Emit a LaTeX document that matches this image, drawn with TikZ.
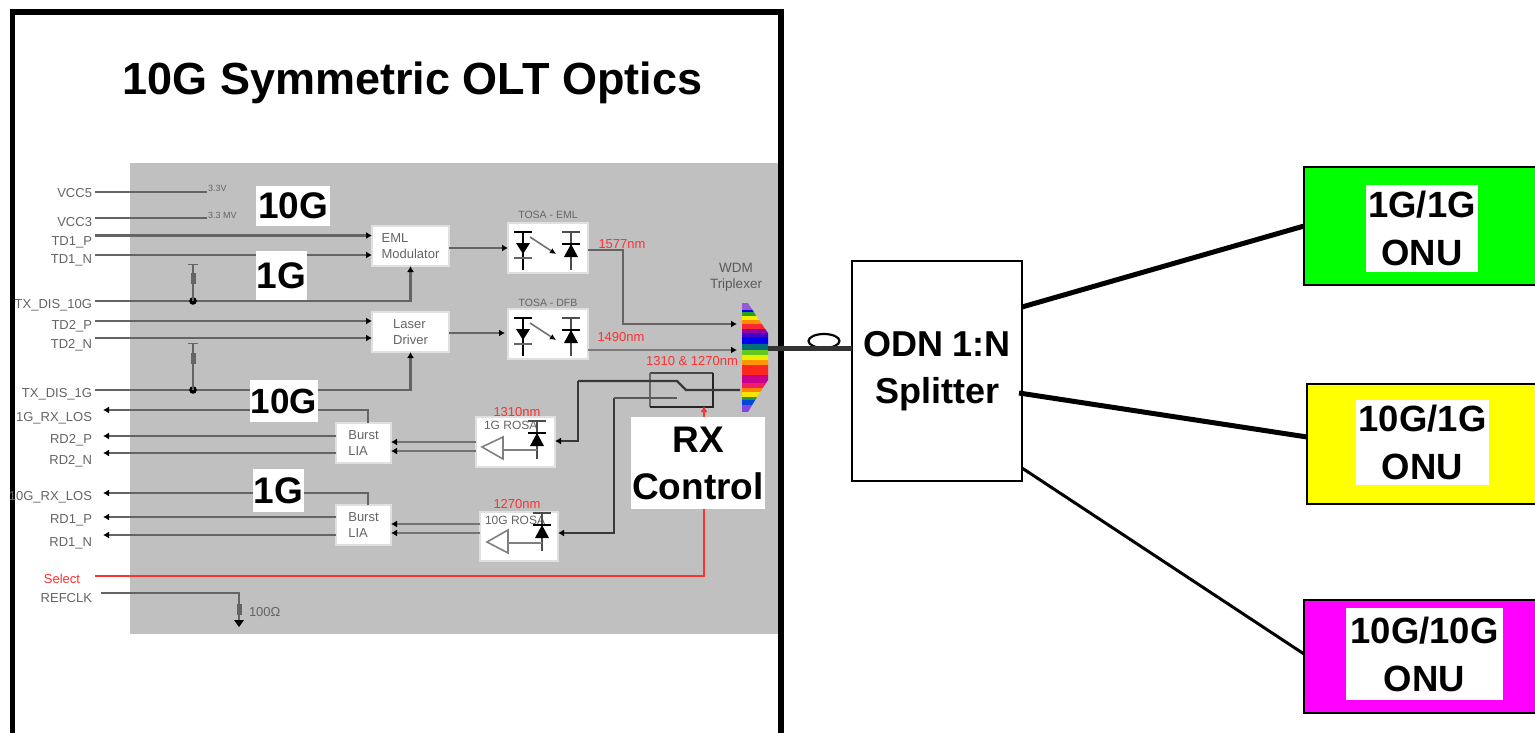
\documentclass[tikz,border=0pt]{standalone}
\usepackage{fontspec}
\setmainfont{Liberation Sans}
\usetikzlibrary{arrows.meta,calc,shapes.geometric}
\definecolor{panel}{RGB}{192,192,192}
\definecolor{sig}{RGB}{100,100,100}
\definecolor{lbl}{RGB}{100,100,100}
\definecolor{redl}{RGB}{250,50,50}
\definecolor{onug}{RGB}{0,255,0}
\definecolor{onuy}{RGB}{255,255,0}
\definecolor{onum}{RGB}{255,0,255}
\newcommand{\bx}[7]{\node[#6,minimum width={#4-#2},minimum height={#5-#3}] (#1) at ({(#2+#4)/2},{(#3+#5)/2}) {#7};}
\tikzset{
 x=1pt,y=-1pt,
 every node/.style={inner sep=0pt,outer sep=0pt},
 whitebox/.style={fill=white,draw=white!88!black,line width=1.5pt},
 tag/.style={fill=white,align=center,font=\bfseries\fontsize{37}{47}\selectfont},
 small/.style={text=lbl,font=\fontsize{13}{14}\selectfont,align=center},
 boxt/.style={small,align=left},
 sigl/.style={small,anchor=east},
 redtxt/.style={text=redl,font=\fontsize{13}{14}\selectfont},
 wire/.style={draw=sig,line width=2.2pt},
 dark/.style={draw=black!78,line width=2.2pt},
 tipp/.style={-{Latex[black,length=6pt,width=7pt]}},
 redtip/.style={-{Latex[length=6pt,width=7pt]}},
 onu/.style={draw=black,line width=2.6pt},
 onutxt/.style={fill=white,align=center,font=\bfseries\fontsize{36.5}{48}\selectfont},
 fibre/.style={draw=black},
 ampl/.style={draw=black!50,fill=white,line width=1.6pt},
 resist/.style={fill=sig,minimum width=5pt,minimum height=11pt},
}
\newcommand{\diodeT}[3]{%
 \draw[black,line width=1.8pt] (#1,#2-16)--(#1,#2+22);
 \draw[black,line width=1.8pt] (#1-9,#2-16)--(#1+9,#2-16);
 \draw[black!60,line width=1.8pt] (#1-9,#2+10)--(#1+9,#2+10);
 \fill[black] (#1-7,#2-5)--(#1+7,#2-5)--(#1,#2+6)--cycle;
}
\newcommand{\diodeU}[3]{%
 \draw[black!70,line width=1.8pt] (#1,#2-16)--(#1,#2+22);
 \draw[black!70,line width=1.8pt] (#1-9,#2-16)--(#1+9,#2-16);
 \draw[black,line width=1.8pt] (#1-9,#2-4)--(#1+9,#2-4);
 \fill[black] (#1,#2-4)--(#1+7,#2+9)--(#1-7,#2+9)--cycle;
}
\begin{document}
\begin{tikzpicture}
\useasboundingbox (0,0) rectangle (1535,733);
\fill[white] (0,0) rectangle (1535,733);
\fill[panel] (130,163) rectangle (779,634);
\draw[draw=black,line width=5.5pt] (12.5,733)--(12.5,12)--(781,12)--(781,733);
\node[font=\bfseries\fontsize{45}{50}\selectfont] (title) at (412.5,83) {10G Symmetric OLT Optics};

% signal names
\node[sigl] (vcc5) at (92,193) {VCC5};
\node[sigl] (vcc3) at (92,222) {VCC3};
\node[sigl] (td1p) at (92,242) {TD1\_P};
\node[sigl] (td1n) at (92,260) {TD1\_N};
\node[sigl] (dis10) at (92,305) {TX\_DIS\_10G};
\node[sigl] (td2p) at (92,326) {TD2\_P};
\node[sigl] (td2n) at (92,345) {TD2\_N};
\node[sigl] (dis1) at (92,394) {TX\_DIS\_1G};
\node[sigl] (los1) at (92,418) {1G\_RX\_LOS};
\node[sigl] (rd2p) at (92,440) {RD2\_P};
\node[sigl] (rd2n) at (92,461) {RD2\_N};
\node[sigl] (los10) at (92,497) {10G\_RX\_LOS};
\node[sigl] (rd1p) at (92,520) {RD1\_P};
\node[sigl] (rd1n) at (92,543) {RD1\_N};
\node[redtxt,anchor=east] (sel) at (80,579) {Select};
\node[sigl] (refclk) at (92,598) {REFCLK};

% free ends
\coordinate (v5e) at (207,192);
\coordinate (v3e) at (207,218);
\node[small,anchor=west,font=\fontsize{9}{10}\selectfont] (v5t) at (208,188) {3.3V};
\node[small,anchor=west,font=\fontsize{9}{10}\selectfont] (v3t) at (208,215) {3.3 MV};
\coordinate (pu1) at (193,264);
\coordinate (pu2) at (193,343);
\coordinate (j1) at (193,301);
\coordinate (j2) at (193,390);
\coordinate (rf) at (239,625);
\coordinate (l1) at (95,192);
\coordinate (l2) at (95,218);
\coordinate (l3) at (95,235.5);
\coordinate (l4) at (95,255);
\coordinate (l5) at (95,301);
\coordinate (l6) at (95,321);
\coordinate (l7) at (95,338);
\coordinate (l8) at (95,390);
\coordinate (l9) at (103,410);
\coordinate (l10) at (103,436);
\coordinate (l11) at (103,453);
\coordinate (l12) at (103,493);
\coordinate (l13) at (103,517);
\coordinate (l14) at (103,535);
\coordinate (l15) at (95,576);
\coordinate (l16) at (101,593);

% boxes
\bx{eml}{372}{226}{449}{266}{whitebox,boxt}{EML\\[2pt]Modulator}
\bx{ld}{372}{312}{449}{352}{whitebox,boxt}{Laser\\[2pt]Driver}
\bx{lia2}{336}{423}{391}{463}{whitebox,boxt}{Burst\\[2pt]LIA}
\bx{lia1}{336}{505}{391}{545}{whitebox,boxt}{Burst\\[2pt]LIA}
\bx{tosa1}{508}{223}{588}{273}{whitebox}{}
\bx{tosa2}{508}{309}{588}{359}{whitebox}{}
\bx{rosa1}{476}{417}{555}{467}{whitebox}{}
\bx{rosa2}{480}{512}{558}{561}{whitebox}{}

\node[small,font=\fontsize{10.5}{11}\selectfont] (tosa1t) at (548,215) {TOSA - EML};
\node[small,font=\fontsize{10.5}{11}\selectfont] (tosa2t) at (548,303) {TOSA - DFB};
\node[small,anchor=west,font=\fontsize{12}{13}\selectfont] (rosa1t) at (484,425) {1G ROSA};
\node[small,anchor=west,font=\fontsize{12}{13}\selectfont] (rosa2t) at (485,520) {10G ROSA};
\node[redtxt] (n1577) at (622,244) {1577nm};
\node[redtxt] (n1490) at (621,337) {1490nm};
\node[redtxt] (n1r) at (692,361) {1310 \& 1270nm};
\node[redtxt] (n1310) at (517,412) {1310nm};
\node[redtxt] (n1270) at (517,504) {1270nm};
\node[small,text=black!65,font=\fontsize{13.5}{14}\selectfont] (wdm) at (736,277) {WDM\\[2pt]Triplexer};

% wires
\draw[wire] (l1)--(v5e);
\draw[wire] (l2)--(v3e);
\draw[wire,tipp] (l3)--(l3-|eml.west);
\draw[wire,tipp] (l4)--(l4-|eml.west);
\draw[wire,tipp] (l5)--(l5-|eml.south)--(eml.south);
\draw[wire,tipp] (l6)--(l6-|ld.west);
\draw[wire,tipp] (l7)--(l7-|ld.west);
\draw[wire,tipp] (l8)--(l8-|ld.south)--(ld.south);
\draw[wire,tipp] (lia2.north-|368,0)--(368,410)--(l9);
\draw[wire,tipp] (lia2.west|-l10)--(l10);
\draw[wire,tipp] (lia2.west|-l11)--(l11);
\draw[wire,tipp] (lia1.north-|368,0)--(368,493)--(l12);
\draw[wire,tipp] (lia1.west|-l13)--(l13);
\draw[wire,tipp] (lia1.west|-l14)--(l14);
\draw[wire] (l16)--(l16-|rf)--(rf);
\fill[black] (j1) circle (3.8pt) (j2) circle (3.8pt);
\draw[wire,line width=1.4pt] (pu1)--(j1);
\draw[wire,line width=1.4pt] (pu2)--(j2);
\draw[black!60,line width=1pt] (188,264)--(198,264) (188,343)--(198,343);
\node[resist] (r1) at (193,278) {};
\node[resist] (r2) at (193,358) {};
\node[resist] (r3) at (239,609) {};
\fill[black] (234,620)--(244,620)--(239,627)--cycle;
\node[small,anchor=west] (r3t) at (249,612) {100Ω};

% optical side
\coordinate (m1) at (737,324);
\coordinate (m2) at (737,350);
\draw[wire,tipp] (eml.east|-tosa1.west)--(tosa1.west);
\draw[wire,tipp,line width=1.3pt] (ld.east|-333,333)--(505,333);
\draw[wire,tipp] (tosa1.east|-0,250)--(623,250)--(623,324)--(m1);
\draw[wire,tipp,draw=sig!85] (tosa2.east|-0,350)--(m2);

% WDM rainbow
\begin{scope}
\clip (742,303)--(748,303)--(757,317)--(768,333)--(768,380)--(757,397)--(748,412)--(742,412)--cycle;
\foreach \a/\b/\c in {303/310/{150,90,210},310/312/{0,0,230},312/316/{40,160,40},316/320/{240,240,0},320/324/{255,140,0},324/329/{250,40,50},329/333/{150,0,160},333/337/{70,0,200},337/344/{0,0,240},344/350/{0,110,120},350/355/{100,200,30},355/360/{230,240,0},360/365/{255,150,0},365/375/{250,40,30},375/383/{200,0,140},383/388/{240,30,100},388/392/{255,130,0},392/397/{245,230,0},397/400/{40,150,40},400/405/{0,70,220},405/412/{130,70,220}}{
  \definecolor{cc}{RGB}{\c}
  \fill[cc] (742,\a) rectangle (770,\b+.3);
}
\end{scope}

% switch
\coordinate (sw1) at (578,381);
\coordinate (sw2) at (614,398);
\draw[black!72,line width=2.2pt] (713,373)--(650,373);
\draw[black!60,line width=2.6pt] (650,373)--(650,407);
\draw[black!85,line width=2.2pt] (650,407)--(713,407)--(713,373);
\draw[dark,tipp] (sw1)--(578,441)--(rosa1.east|-0,441);
\draw[dark] (sw1)--(677,381)--(686,390)--(740,390);
\draw[dark,tipp] (sw2)--(614,533)--(rosa2.east|-0,533);
\draw[dark,draw=black!65] (sw2)--(677,398);

% fibre
\node[draw=black,line width=2.2pt,minimum width=31pt,minimum height=14pt,ellipse] (loop) at (824,341) {};

% ODN and ONUs
\bx{odn}{852}{261}{1022}{481}{draw=black,line width=2.6pt,fill=white,align=center,font=\bfseries\fontsize{36}{47}\selectfont}{ODN 1:N\\Splitter}
\bx{g}{1304}{167}{1545}{285}{onu,fill=onug}{}
\bx{y}{1307}{384}{1545}{504}{onu,fill=onuy}{}
\bx{m}{1304}{600}{1545}{713}{onu,fill=onum}{}
\bx{gt}{1366}{185}{1478}{272}{onutxt}{1G/1G\\ONU}
\bx{yt}{1356}{400}{1489}{485}{onutxt}{10G/1G\\ONU}
\bx{mt}{1346}{608}{1503}{700}{onutxt}{10G/10G\\ONU}
\draw[draw=black!80,line width=5pt] (768,348)--(odn.west|-0,348);
\draw[fibre,line width=5pt] ([yshift=64pt]odn.east)--([yshift=0pt]g.west);
\draw[fibre,line width=5pt] ([yshift=-22pt,xshift=-3pt]odn.east)--([yshift=7pt]y.west);
\draw[fibre,line width=3pt] ([yshift=-97pt]odn.east)--([yshift=2.5pt]m.west);

% white tags and RX control
\bx{t10a}{256}{186}{330}{226}{tag}{10G}
\bx{t1a}{256}{251}{307}{300}{tag}{1G}
\bx{t10b}{250}{380}{318}{422}{tag,font=\bfseries\fontsize{35}{40}\selectfont}{10G}
\bx{t1b}{253}{469}{304}{512}{tag}{1G}
\bx{rx}{631}{417}{765}{509}{tag}{RX\\Control}
\draw[draw=redl,line width=2.4pt,redtip] (rx.north-|704,0)--(704,406);
\draw[draw=redl,line width=2.4pt] (l15)--(704,576)--(rx.south-|704,0);

% device glyphs
\foreach \o in {0,86}{
 \diodeT{523}{248+\o}{}
 \diodeU{571}{248+\o}{}
 \draw[black!55,line width=1.6pt,-{Latex[black,length=6pt,width=6pt]}] (530,{237+\o})--(556,{254+\o});
}
\diodeU{537}{437}{}
\diodeU{542}{529}{}
\draw[ampl] (503,437)--(482,447)--(503,459)--cycle;
\draw[black!50,line width=1.8pt] (503,450)--(537,450);
\draw[ampl] (508,530)--(487,542)--(508,553)--cycle;
\draw[black!50,line width=1.8pt] (508,543)--(542,543);
\draw[draw=black!55,line width=1.6pt,tipp] (rosa1.west|-0,442)--(lia2.east|-0,442);
\draw[draw=black!55,line width=1.6pt,tipp] (rosa1.west|-0,451)--(lia2.east|-0,451);
\draw[draw=black!55,line width=1.6pt,tipp] (rosa2.west|-0,524)--(lia1.east|-0,524);
\draw[draw=black!55,line width=1.6pt,tipp] (rosa2.west|-0,533)--(lia1.east|-0,533);
\end{tikzpicture}
\end{document}
